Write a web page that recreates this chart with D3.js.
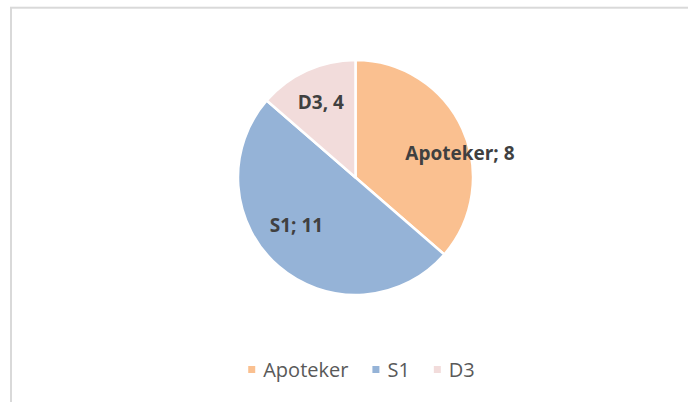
<!DOCTYPE html>
<html>
<head>
<meta charset="utf-8">
<script src="https://cdn.jsdelivr.net/npm/d3@7"></script>
<style>
  body { margin: 0; background: #fff; }
  svg { display: block; font-family: "Open Sans", sans-serif; }
</style>
</head>
<body>
<div id="chart-area"></div>
<script>
var categories = ["Apoteker", "S1", "D3"];
// slice sizes as drawn in the picture (the D3 label text reads "4")
var values = [8, 11, 3];
var labels = ["Apoteker; 8", "S1; 11", "D3, 4"];
var colors = ["#FAC090", "#95B3D7", "#F2DCDB"];
// nudges of each data label away from the arc centroid
var labelNudge = [[35, 8], [-9, -10], [-3, -6]];

var width = 688;
var height = 402;

var cx = 355.5, cy = 177.5, radius = 117.5;

var svg = d3.select("#chart-area").append("svg")
    .attr("width", width)
    .attr("height", height);

// chart frame (cut by the window on right and bottom)
svg.append("rect")
  .attr("x", 11)
  .attr("y", 7.7)
  .attr("width", 800)
  .attr("height", 500)
  .attr("fill", "none")
  .attr("stroke", "#d9d9d9")
  .attr("stroke-width", 2);

var g = svg.append("g")
  .attr("transform", "translate(" + cx + "," + cy + ")");

var pie = d3.pie().sort(null).value(d => d);
var arcs = pie(values);

var arc = d3.arc().innerRadius(0).outerRadius(radius);
var labelArc = d3.arc().innerRadius(radius * 0.65).outerRadius(radius * 0.65);

g.selectAll("path")
  .data(arcs)
  .enter()
  .append("path")
    .attr("d", arc)
    .attr("fill", (d, i) => colors[i])
    .attr("stroke", "#fff")
    .attr("stroke-width", 2.5)
    .attr("stroke-linejoin", "round");

// data labels
g.selectAll(".label")
  .data(arcs)
  .enter()
  .append("text")
    .attr("class", "label")
    .attr("x", (d, i) => labelArc.centroid(d)[0] + labelNudge[i][0])
    .attr("y", (d, i) => labelArc.centroid(d)[1] + labelNudge[i][1])
    .attr("dy", "0.35em")
    .attr("text-anchor", "middle")
    .attr("font-size", "19px")
    .attr("font-weight", "bold")
    .attr("fill", "#404040")
    .text((d, i) => labels[i]);

// legend
var legend = svg.append("g");
var x0 = 0;
categories.forEach((c, i) => {
  var item = legend.append("g").attr("transform", "translate(" + x0 + ",0)");
  item.append("rect")
    .attr("x", 0)
    .attr("y", -3.5)
    .attr("width", 7)
    .attr("height", 7)
    .attr("fill", colors[i]);
  var t = item.append("text")
    .attr("x", 15)
    .attr("y", 0)
    .attr("dy", "0.35em")
    .attr("font-size", "20px")
    .attr("fill", "#595959")
    .text(c);
  x0 += 15 + t.node().getComputedTextLength() + 24;
});
var legendW = x0 - 24;
legend.attr("transform", "translate(" + (361.5 - legendW / 2) + ",369.5)");
</script>
</body>
</html>
